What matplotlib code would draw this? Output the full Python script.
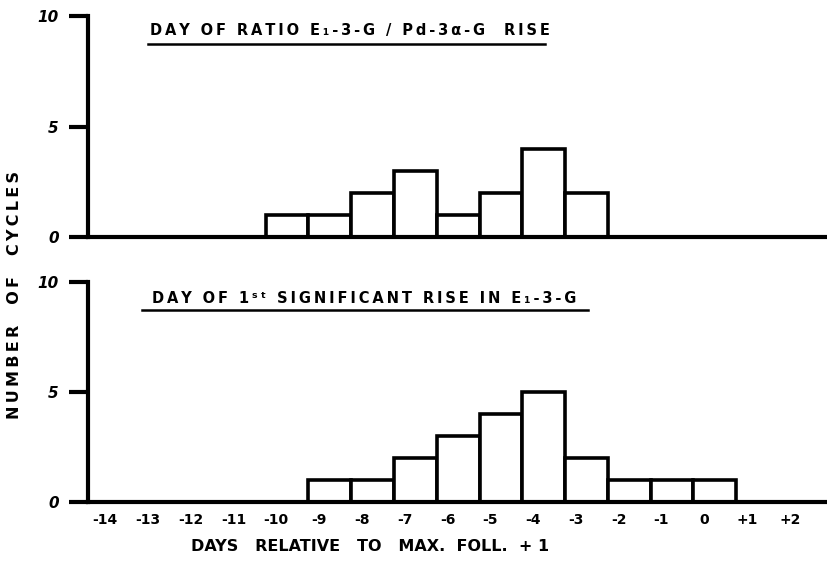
import matplotlib
matplotlib.use("Agg")
import matplotlib.pyplot as plt

# data
top_days = [-10, -9, -8, -7, -6, -5, -4, -3]
top_counts = [1, 1, 2, 3, 1, 2, 4, 2]
bot_days = [-9, -8, -7, -6, -5, -4, -3, -2, -1, 0]
bot_counts = [1, 1, 2, 3, 4, 5, 2, 1, 1, 1]
day_ticks = list(range(-14, 3))
day_labels = ['-14', '-13', '-12', '-11', '-10', '-9', '-8', '-7', '-6', '-5',
              '-4', '-3', '-2', '-1', '0', '+1', '+2']
y_ticks = [0, 5, 10]

top_title = "DAY OF RATIO E\u2081-3-G / Pd-3\u03b1-G  RISE"
bot_title = "DAY OF 1\u02e2\u1d57 SIGNIFICANT RISE IN E\u2081-3-G"


def spaced(s, sep='\u2009'):
    # hand lettering is wide, spread the letters out a bit
    return sep.join(s)


plt.rcParams['font.family'] = ['DejaVu Sans']
plt.rcParams['font.weight'] = 'bold'

fig = plt.figure(figsize=(8.27, 5.61), dpi=100)
ax1 = fig.add_axes([0.1064, 0.5775, 0.8936, 0.394])
ax2 = fig.add_axes([0.1064, 0.105, 0.8936, 0.3923])

lw = 2.6
for ax, days, counts in [(ax1, top_days, top_counts), (ax2, bot_days, bot_counts)]:
    ax.bar([d - 0.25 for d in days], counts, width=1.0, align='edge',
           facecolor='white', edgecolor='black', linewidth=lw)
    ax.set_xlim(-14.4, 2.87)
    ax.set_ylim(0, 10)
    for s in ['top', 'right']:
        ax.spines[s].set_visible(False)
    ax.spines['left'].set_linewidth(3)
    ax.spines['bottom'].set_linewidth(3)
    ax.set_yticks(y_ticks)
    ax.set_yticklabels([str(t) for t in y_ticks], fontsize=11, style='italic')
    ax.tick_params(axis='y', length=14, width=3, pad=7)
    ax.set_xticks(day_ticks)

ax1.tick_params(axis='x', length=0, labelbottom=False)
ax2.set_xticklabels(day_labels, fontsize=10)
ax2.tick_params(axis='x', length=0, pad=8)

# titles with underline
fig.text(0.181, 0.946, spaced(top_title), fontsize=10.5, ha='left', va='center')
fig.add_artist(plt.Line2D([0.179, 0.659], [0.921, 0.921], transform=fig.transFigure,
                          color='black', linewidth=1.8))
fig.text(0.184, 0.468, spaced(bot_title), fontsize=10.5, ha='left', va='center')
fig.add_artist(plt.Line2D([0.172, 0.711], [0.447, 0.447], transform=fig.transFigure,
                          color='black', linewidth=1.8))

fig.text(0.018, 0.474, spaced("NUMBER  OF  CYCLES"), rotation=90, fontsize=11.5,
         ha='center', va='center')
fig.text(0.447, 0.025, "DAYS   RELATIVE   TO   MAX.  FOLL.  + 1", fontsize=11.5,
         ha='center', va='center')

fig.savefig("out.png", dpi=100)
